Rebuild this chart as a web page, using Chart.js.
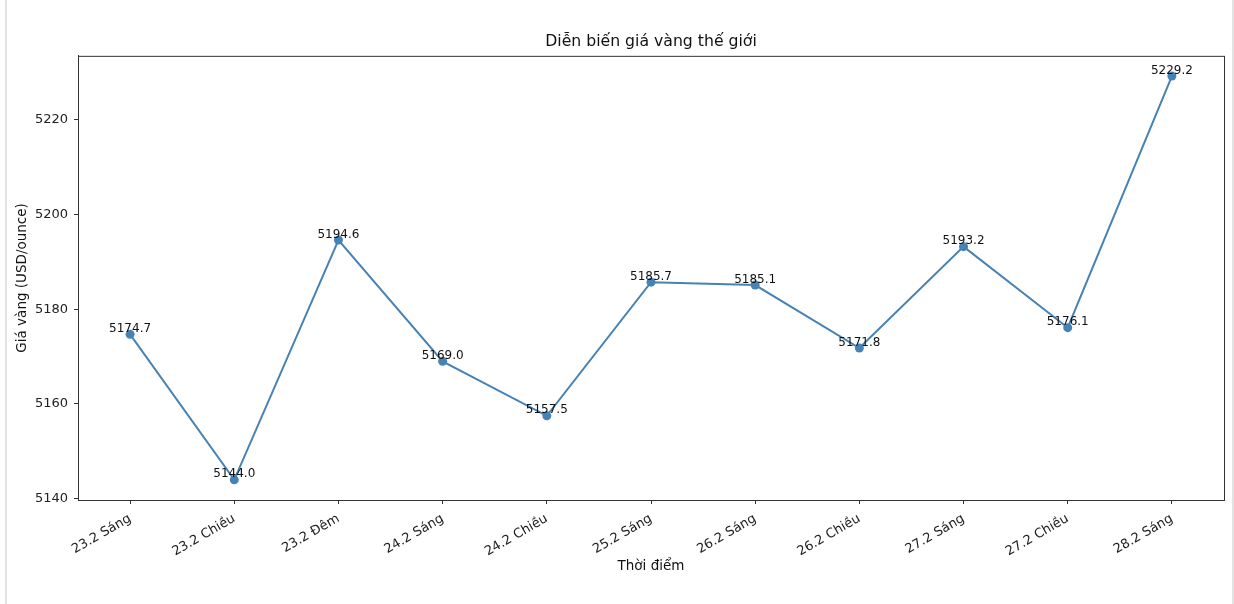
<!DOCTYPE html>
<html>
<head>
<meta charset="utf-8">
<script src="https://cdn.jsdelivr.net/npm/chart.js@4.4.1/dist/chart.umd.min.js"></script>
<style>
    html, body { margin: 0; padding: 0; background: #fff; }
    .frame {
        position: absolute; left: 5px; top: 0; width: 1225px; height: 604px;
        border-left: 2px solid #e3e3e3; border-right: 2px solid #e3e3e3;
    }
    #wrap { position: absolute; left: 0; top: 0; width: 1234px; height: 604px; }
</style>
</head>
<body>
<div class="frame"></div>
<div id="wrap"><canvas id="goldChart" width="1234" height="604"></canvas></div>
<script>
const labels = [
    "23.2 Sáng", "23.2 Chiều", "23.2 Đêm", "24.2 Sáng", "24.2 Chiều",
    "25.2 Sáng", "26.2 Sáng", "26.2 Chiều", "27.2 Sáng", "27.2 Chiều", "28.2 Sáng"
];
const prices = [5174.7, 5144.0, 5194.6, 5169.0, 5157.5, 5185.7, 5185.1, 5171.8, 5193.2, 5176.1, 5229.2];
const yTicks = [5140, 5160, 5180, 5200, 5220];

const LINE_COLOR = "#4682b4";
const FONT = "'DejaVu Sans', sans-serif";

// matplotlib style 5% margins
const span = Math.max(...prices) - Math.min(...prices);
const yMin = Math.min(...prices) - span * 0.05;
const yMax = Math.max(...prices) + span * 0.05;

const boxAndLabels = {
    id: "boxAndLabels",
    afterDatasetsDraw(chart) {
        const ctx = chart.ctx;
        const a = chart.chartArea;
        ctx.save();
        ctx.strokeStyle = "#333";
        ctx.lineWidth = 1;
        ctx.strokeRect(a.left + 0.5, a.top + 0.5, a.right - a.left, a.bottom - a.top);

        ctx.fillStyle = "#111";
        ctx.font = "12px " + FONT;
        ctx.textAlign = "center";
        ctx.textBaseline = "alphabetic";
        const meta = chart.getDatasetMeta(0);
        meta.data.forEach((pt, i) => {
            ctx.fillText(prices[i].toFixed(1), pt.x, pt.y - 2.5);
        });
        ctx.restore();
    }
};

new Chart(document.getElementById("goldChart"), {
    type: "line",
    data: {
        labels: labels,
        datasets: [{
            data: prices,
            borderColor: LINE_COLOR,
            backgroundColor: LINE_COLOR,
            borderWidth: 2,
            pointRadius: 4.5,
            pointBorderWidth: 0,
            pointBackgroundColor: LINE_COLOR,
            tension: 0
        }]
    },
    options: {
        responsive: false,
        animation: false,
        layout: { padding: { left: 0, right: 10, top: 0, bottom: 0 } },
        plugins: {
            legend: { display: false },
            tooltip: { enabled: false },
            title: {
                display: true,
                text: "Diễn biến giá vàng thế giới",
                color: "#111",
                font: { family: FONT, size: 15.7, weight: "normal", lineHeight: 1.2 },
                padding: { top: 33, bottom: 4 },
                fullSize: false
            }
        },
        scales: {
            x: {
                offset: true,
                grid: { display: true, drawOnChartArea: false, drawTicks: true, tickLength: 4, color: "#333" },
                border: { display: true, color: "#333" },
                ticks: {
                    color: "#222",
                    font: { family: FONT, size: 13 },
                    maxRotation: 30,
                    minRotation: 30,
                    padding: 7,
                    autoSkip: false
                },
                title: {
                    display: true,
                    text: "Thời điểm",
                    color: "#111",
                    font: { family: FONT, size: 13.5 },
                    padding: { top: 0, bottom: 29 }
                },
                afterFit(scale) { scale.height = 104; }
            },
            y: {
                min: yMin,
                max: yMax,
                grid: { display: true, drawOnChartArea: false, drawTicks: true, tickLength: 4, color: "#333" },
                border: { display: true, color: "#333" },
                ticks: {
                    color: "#222",
                    font: { family: FONT, size: 13 },
                    padding: 6,
                    callback: v => String(v)
                },
                afterBuildTicks(scale) {
                    scale.ticks = yTicks.map(v => ({ value: v }));
                },
                title: {
                    display: true,
                    text: "Giá vàng (USD/ounce)",
                    color: "#111",
                    font: { family: FONT, size: 13.5 },
                    padding: { top: 14, bottom: 0 }
                },
                afterFit(scale) { scale.width = 78; }
            }
        }
    },
    plugins: [boxAndLabels]
});
</script>
</body>
</html>
